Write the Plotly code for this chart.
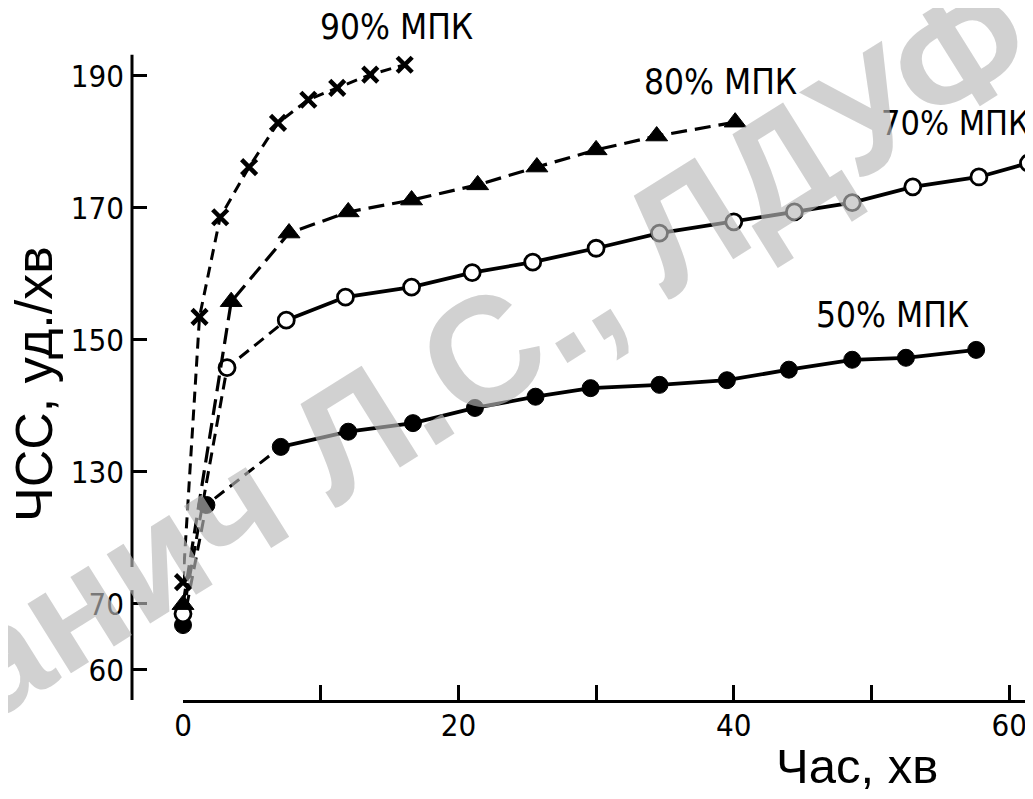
import plotly.graph_objects as go

# ---------------- data ----------------
t90 = [0, 1.2, 2.7, 4.8, 6.9, 9.1, 11.2, 13.6, 16.1]
hr90 = [73.3, 153.5, 168.6, 176.2, 182.9, 186.4, 188.2, 190.2, 191.7]

t80 = [0, 3.5, 7.7, 12.0, 16.6, 21.4, 25.7, 30.0, 34.4, 40.1]
hr80 = [69.9, 155.8, 166.2, 169.4, 171.2, 173.5, 176.2, 178.8, 180.9, 183.0]

t70 = [0, 3.2, 7.5, 11.8, 16.6, 21.0, 25.4, 30.0, 34.6, 40.0, 44.4, 48.6, 53.0, 57.8, 61.4]
hr70 = [68.5, 145.8, 153.0, 156.5, 158.0, 160.2, 161.8, 163.9, 166.2, 167.9, 169.4, 170.8, 173.2, 174.7, 176.8]

t50 = [0, 1.7, 7.1, 12.0, 16.7, 21.2, 25.6, 29.6, 34.6, 39.5, 44.0, 48.6, 52.5, 57.6]
hr50 = [66.8, 125.0, 133.8, 136.1, 137.4, 139.7, 141.4, 142.7, 143.2, 143.9, 145.5, 147.0, 147.3, 148.5]

y_ticks = [60, 70, 130, 150, 170, 190]
x_ticks = [0, 10, 20, 30, 40, 50, 60]
x_ticktext = ["0", "", "20", "", "40", "", "60"]

labels = ["90% МПК", "80% МПК", "70% МПК", "50% МПК"]
x_title = "Час, хв"
y_title = "ЧСС, уд./хв"
watermark = "анич Л.С., ЛДУФ"


# ---------------- broken y axis (60-70 segment shifted up) ----------------
def brk(v):
    return v + 40 if v < 100 else v


W, H = 1033, 799
OFF = 8          # page body margin: figure starts 8 px right / down
PB = 700 - OFF   # figure pixel row of the x axis


def paper_x(p):  # reference pixel -> paper fraction
    return (p - OFF) / W


def paper_y(p):
    return (PB - (p - OFF)) / PB


NARROW = "Liberation Sans Narrow, DejaVu Sans Condensed, Arial Narrow, sans-serif"
SANS = "Liberation Sans, Arial, sans-serif"

fig = go.Figure()


def add_line(t, hr, dash, width):
    fig.add_trace(go.Scatter(
        x=t, y=[brk(v) for v in hr], mode="lines",
        line=dict(color="black", width=width, dash=dash),
        cliponaxis=False, showlegend=False, hoverinfo="skip"))


def add_markers(t, hr, marker):
    fig.add_trace(go.Scatter(
        x=t, y=[brk(v) for v in hr], mode="markers", marker=marker,
        cliponaxis=False, showlegend=False, hoverinfo="skip"))


# 50 %  (filled circles): dashed start, solid after
add_line(t50[:3], hr50[:3], "12px,7px", 3)
add_line(t50[2:], hr50[2:], "solid", 3.8)
add_markers(t50, hr50, dict(symbol="circle", size=17, color="black",
                            line=dict(color="black", width=1)))

# 70 %  (open circles)
add_line(t70[:3], hr70[:3], "12px,7px", 3)
add_line(t70[2:], hr70[2:], "solid", 3.8)
add_markers(t70, hr70, dict(symbol="circle", size=16, color="white",
                            line=dict(color="black", width=2.8)))

# 80 %  (filled triangles)
add_line(t80, hr80, "16px,8px", 3.2)
add_markers(t80, hr80, dict(symbol="triangle-up", size=19, color="black",
                            line=dict(color="black", width=1)))

# 90 %  (crosses)
add_line(t90, hr90, "11px,7px", 3)
add_markers(t90, hr90, dict(symbol="x-thin", size=15, color="black",
                            line=dict(color="black", width=4.5)))

# ---------------- axes ----------------
fig.update_layout(
    width=W, height=H,
    margin=dict(l=0, r=0, t=0, b=H - PB),
    paper_bgcolor="white", plot_bgcolor="white",
    showlegend=False,
    xaxis=dict(domain=[(183 - OFF) / W, 1], range=[0, 62.31], showgrid=False, zeroline=False,
               automargin=False,
               showline=True, linecolor="black", linewidth=3,
               ticks="inside", ticklen=15, tickwidth=3, tickcolor="black",
               tickvals=x_ticks, ticktext=x_ticktext, ticklabelstandoff=-4,
               tickfont=dict(family=NARROW, size=31, color="black")),
    yaxis=dict(range=[95.45, 200.30], anchor="free", position=(132 - OFF) / W,
               automargin=False,
               showgrid=False, zeroline=False, showline=False,
               ticks="inside", ticklen=14, tickwidth=3, tickcolor="black",
               tickvals=[brk(v) for v in y_ticks], ticktext=[str(v) for v in y_ticks],
               ticklabelstandoff=8,
               tickfont=dict(family=NARROW, size=31, color="black")),
)

# y-axis line drawn in two pieces (axis break)
for y0, y1 in [(95.2, 112.1), (115.6, 193.2)]:
    fig.add_shape(type="line", xref="paper", yref="y", x0=(132 - OFF) / W, x1=(132 - OFF) / W,
                  y0=y0, y1=y1, line=dict(color="black", width=3))

# ---------------- texts ----------------
ann = [
    (labels[0], 396, 27, "center", 35),
    (labels[1], 720, 82, "center", 35),
    (labels[2], 879, 123, "left", 34),
    (labels[3], 892, 315, "center", 35),
]
for txt, px, py, xa, fs in ann:
    fig.add_annotation(text=txt, x=paper_x(px), y=paper_y(py), xref="paper", yref="paper",
                       xanchor=xa, yanchor="middle", showarrow=False,
                       font=dict(family=NARROW, size=fs, color="black"))

fig.add_annotation(text=y_title, x=paper_x(34), y=paper_y(384), xref="paper", yref="paper",
                   textangle=-90, showarrow=False, xanchor="center", yanchor="middle",
                   font=dict(family=SANS, size=52, color="black"))
fig.add_annotation(text=x_title, x=paper_x(857), y=paper_y(766), xref="paper", yref="paper",
                   showarrow=False, xanchor="center", yanchor="middle",
                   font=dict(family=SANS, size=49, color="black"))

# watermark (drawn above the chart, semi-transparent grey)
fig.add_annotation(text=watermark, x=paper_x(488), y=paper_y(350),
                   xref="paper", yref="paper",
                   textangle=-32, showarrow=False, xanchor="center", yanchor="middle",
                   font=dict(family=SANS, size=155, weight="bold",
                             color="rgba(185,185,185,0.65)"))

fig.write_html("out.html")
